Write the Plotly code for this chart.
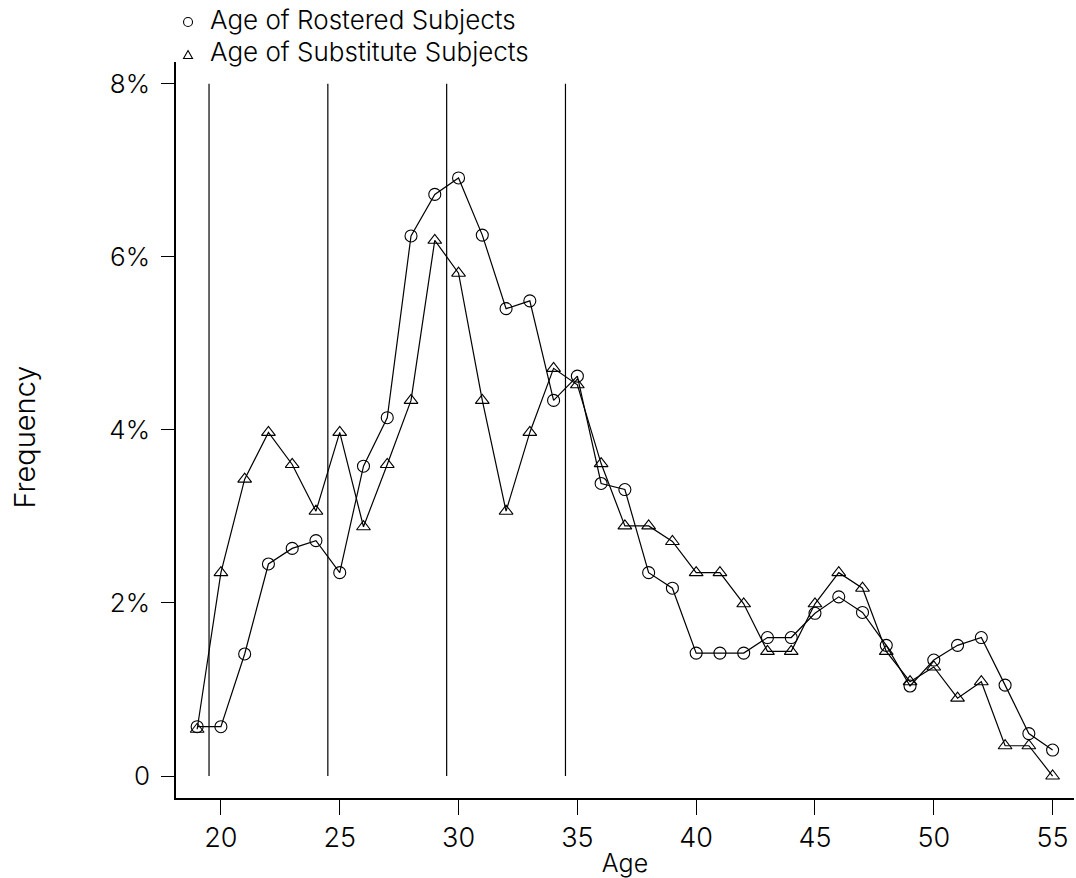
import plotly.graph_objects as go

# Age (years) on the x axis
ages = list(range(19, 56))

# Frequency (%) of each age among rostered subjects
rostered = [0.57, 0.57, 1.41, 2.45, 2.63, 2.72, 2.35, 3.58, 4.14, 6.24,
            6.72, 6.91, 6.25, 5.40, 5.49, 4.34, 4.62, 3.38, 3.31, 2.35,
            2.17, 1.42, 1.42, 1.42, 1.60, 1.60, 1.88, 2.07, 1.89, 1.51,
            1.04, 1.34, 1.51, 1.60, 1.05, 0.49, 0.30]

# Frequency (%) of each age among substitute subjects
substitute = [0.54, 2.35, 3.43, 3.97, 3.60, 3.06, 3.97, 2.88, 3.60, 4.34,
              6.19, 5.81, 4.34, 3.06, 3.97, 4.71, 4.52, 3.61, 2.89, 2.89,
              2.71, 2.35, 2.35, 1.99, 1.44, 1.44, 1.99, 2.35, 2.17, 1.44,
              1.09, 1.26, 0.90, 1.09, 0.35, 0.35, 0.00]

# Age-group boundaries drawn as vertical rules
group_bounds = [19.5, 24.5, 29.5, 34.5]

y_ticks = [0, 2, 4, 6, 8]
y_tick_text = ["0", "2%", "4%", "6%", "8%"]
x_ticks = [20, 25, 30, 35, 40, 45, 50, 55]

series_names = ["Age of Rostered Subjects", "Age of Substitute Subjects"]

FONT = "Inter"
WEIGHT = 300
INK = "black"

fig = go.Figure()

fig.add_trace(go.Scatter(
    x=ages, y=rostered, mode="lines+markers", name=series_names[0],
    line=dict(color=INK, width=1.2),
    marker=dict(symbol="circle-open", size=12, color=INK, line=dict(width=1.1)),
    showlegend=False, cliponaxis=False,
))
fig.add_trace(go.Scatter(
    x=ages, y=substitute, mode="lines+markers", name=series_names[1],
    line=dict(color=INK, width=1.2),
    marker=dict(symbol="triangle-up-open", size=12, color=INK, line=dict(width=1.1)),
    showlegend=False, cliponaxis=False,
))

for xb in group_bounds:
    fig.add_shape(type="line", xref="x", yref="y", x0=xb, x1=xb,
                  y0=y_ticks[0], y1=y_ticks[-1],
                  line=dict(color=INK, width=1.2), layer="below")

# Key above the plot: a small symbol followed by the series name
# (symbol anchor, text anchor) in paper units
key_rows = [(series_names[0], "circle", 1.0543, 1.0584),
            (series_names[1], "triangle", 1.0095, 1.0136)]
for nm, sym, sy, ty in key_rows:
    if sym == "circle":
        fig.add_shape(type="circle", xref="paper", yref="paper",
                      xsizemode="pixel", ysizemode="pixel",
                      xanchor=0.0134, yanchor=sy,
                      x0=-4.5, x1=4.5, y0=-4.5, y1=4.5,
                      line=dict(color=INK, width=1.1))
    else:
        fig.add_shape(type="path", xref="paper", yref="paper",
                      xsizemode="pixel", ysizemode="pixel",
                      xanchor=0.0134, yanchor=sy,
                      path="M -4.5,-3.5 L 4.5,-3.5 L 0,4.5 Z",
                      line=dict(color=INK, width=1.1))
    fig.add_annotation(
        text=nm, xref="paper", yref="paper", x=0.036, y=ty,
        xanchor="left", yanchor="middle", showarrow=False,
        font=dict(family=FONT, size=26, color=INK, weight=WEIGHT),
    )

fig.add_annotation(
    text="Frequency", xref="paper", yref="paper", x=-0.169, y=0.49,
    textangle=-90, showarrow=False, xanchor="center", yanchor="middle",
    font=dict(family=FONT, size=29, color=INK, weight=WEIGHT),
)

fig.update_layout(
    width=1076, height=878,
    margin=dict(l=176, r=2, t=62, b=80),
    paper_bgcolor="white", plot_bgcolor="white",
    font=dict(family=FONT, size=26, color=INK, weight=WEIGHT),
    showlegend=False,
    xaxis=dict(
        range=[18.11, 55.9], tickvals=x_ticks, ticks="outside", ticklen=15,
        tickwidth=1.2, tickcolor=INK, showline=True, linecolor=INK, linewidth=1.5,
        showgrid=False, zeroline=False,
        tickfont=dict(family=FONT, size=27, color=INK, weight=WEIGHT),
        title=dict(text="Age", font=dict(family=FONT, size=25, color=INK, weight=WEIGHT),
                   standoff=2),
    ),
    yaxis=dict(
        range=[-0.254, 8.25], tickvals=y_ticks, ticktext=y_tick_text,
        ticks="outside", ticklen=13, tickwidth=1.2, tickcolor=INK,
        showline=True, linecolor=INK, linewidth=1.5, showgrid=False, zeroline=False,
        tickfont=dict(family=FONT, size=26, color=INK, weight=WEIGHT), ticklabelstandoff=6,
    ),
)

fig.write_html("out.html")
